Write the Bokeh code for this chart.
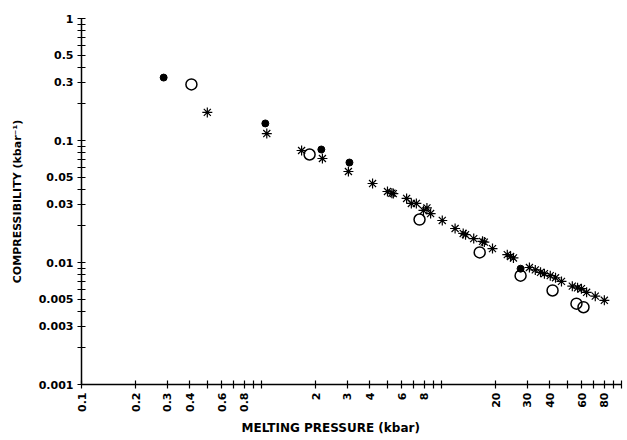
import math
from bokeh.plotting import figure
from bokeh.models import FixedTicker, CustomJSTickFormatter, Range1d, Title
from bokeh.embed import file_html
from bokeh.resources import INLINE

# Data
filled_x = [0.286, 1.05, 2.15, 3.08, 27.5]
filled_y = [0.328, 0.138, 0.0844, 0.066, 0.0089]

open_x = [0.408, 1.85, 7.55, 16.3, 27.5, 41.4, 56.2, 61.5]
open_y = [0.288, 0.0768, 0.0225, 0.0121, 0.0078, 0.0059, 0.0046, 0.0043]

star_x = [0.5, 1.07, 1.67, 2.18, 3.04, 4.14, 5.01, 5.3, 5.4, 6.4, 6.8, 7.25,
          7.94, 8.3, 8.7, 10.1, 11.9, 13.2, 13.6, 15.1, 16.9, 17.3, 19.2, 23.2,
          24.2, 25.1, 30.8, 33.2, 35.5, 37.3, 40.2, 43.0, 46.4, 53.3, 57.0, 59.9,
          64.0, 71.5, 80.3]
star_y = [0.17, 0.114, 0.0828, 0.0712, 0.0557, 0.0444, 0.0382, 0.037, 0.0367,
          0.0335, 0.0305, 0.0305, 0.0267, 0.028, 0.0252, 0.0221, 0.019, 0.0173,
          0.0169, 0.0157, 0.0149, 0.0147, 0.013, 0.0116, 0.0112, 0.0109, 0.0091,
          0.0087, 0.0083, 0.0081, 0.0078, 0.0075, 0.0070, 0.0064, 0.0062, 0.0061,
          0.0057, 0.0053, 0.0049]

x_labeled = [0.1, 0.2, 0.3, 0.4, 0.6, 0.8, 2, 3, 4, 6, 8, 20, 30, 40, 60, 80]
x_unlabeled = [0.5, 0.7, 0.9, 1, 5, 7, 9, 10, 50, 70, 90, 100]
y_labeled = [0.001, 0.003, 0.005, 0.01, 0.03, 0.05, 0.1, 0.3, 0.5, 1]
y_unlabeled = [0.002, 0.004, 0.006, 0.007, 0.008, 0.009,
               0.02, 0.04, 0.06, 0.07, 0.08, 0.09,
               0.2, 0.4, 0.6, 0.7, 0.8, 0.9]

FONT = "DejaVu Sans"

p = figure(width=625, height=438, x_axis_type="log", y_axis_type="log",
           x_range=Range1d(0.1, 100), y_range=Range1d(0.001, 1),
           output_backend="svg", toolbar_location=None,
           min_border_left=81, min_border_right=4, min_border_top=18,
           min_border_bottom=53)
p.outline_line_color = None
p.xgrid.visible = False
p.ygrid.visible = False
p.background_fill_color = "white"
p.border_fill_color = "white"

fmt = CustomJSTickFormatter(code="return String(+tick.toPrecision(6));")

p.xaxis.ticker = FixedTicker(ticks=x_labeled, minor_ticks=x_unlabeled)
p.yaxis.ticker = FixedTicker(ticks=y_labeled, minor_ticks=y_unlabeled)
p.xaxis.formatter = fmt
p.yaxis.formatter = fmt

for ax in (p.xaxis[0], p.yaxis[0]):
    ax.axis_line_color = "black"
    ax.axis_line_width = 1.5
    ax.major_tick_line_color = "black"
    ax.minor_tick_line_color = "black"
    ax.major_tick_line_width = 1.2
    ax.minor_tick_line_width = 1.2
    ax.major_tick_in = 4
    ax.major_tick_out = 4
    ax.minor_tick_in = 4
    ax.minor_tick_out = 4
    ax.major_label_text_font = FONT
    ax.major_label_text_font_style = "bold"
    ax.major_label_text_font_size = "11px"
    ax.major_label_text_color = "black"
    ax.axis_label_text_font = FONT
    ax.axis_label_text_font_style = "bold"
    ax.axis_label_text_color = "black"

p.xaxis.major_label_orientation = math.pi / 2
p.xaxis.major_label_standoff = 4
p.yaxis.major_label_standoff = 4
p.yaxis.axis_label = "COMPRESSIBILITY (kbar\u207b\u00b9)"
p.yaxis.axis_label_text_font_size = "11px"
p.yaxis.axis_label_standoff = 12

# x-axis title, left of the frame centre as in the reference
xtitle = Title(text="MELTING PRESSURE (kbar)", align="left", offset=160,
               text_font=FONT, text_font_style="bold", text_font_size="12px",
               text_color="black", standoff=8)
p.add_layout(xtitle, "below")

p.scatter(star_x, star_y, marker="asterisk", size=10, line_color="black",
          line_width=1.2)
p.scatter(open_x, open_y, marker="circle", size=11, fill_color=None,
          line_color="black", line_width=1.5)
p.scatter(filled_x, filled_y, marker="circle", size=7, fill_color="black",
          line_color="black")

open("out.html", "w").write(file_html(p, INLINE))
